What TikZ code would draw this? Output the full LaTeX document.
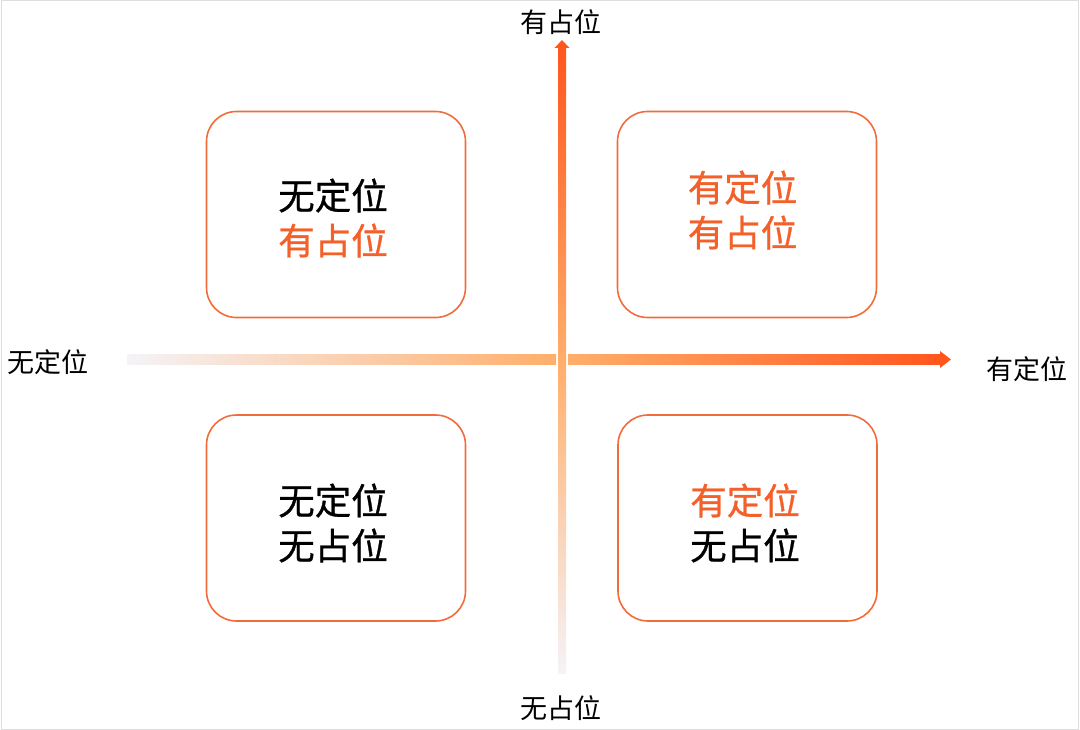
\documentclass[tikz,border=0pt]{standalone}
\usepackage{fontspec}
\newfontfamily\cjk{Noto Sans CJK SC}
\newfontfamily\cjkm[FakeBold=0.8]{Noto Sans CJK SC}
\definecolor{boxline}{HTML}{F26B3A}
\definecolor{hot}{HTML}{F4602A}
\definecolor{redor}{HTML}{FF561E}
\definecolor{midor}{HTML}{FF8A12}
\definecolor{lightor}{HTML}{FFAE6A}
\definecolor{pale}{HTML}{F5F3F8}
\definecolor{frame}{HTML}{DEDEDE}
\tikzset{
  quad/.style={draw=boxline, line width=1.6pt, rounded corners=30pt, minimum width=259pt, minimum height=206pt, inner sep=0pt},
  quadtext/.style={font=\cjkm\fontsize{36.5}{45}\selectfont, align=center, inner sep=0pt},
  axislabel/.style={font=\cjk\fontsize{27}{30}\selectfont, inner sep=0pt, text=black},
}
\begin{document}
\begin{tikzpicture}[x=1pt,y=-1pt]
\useasboundingbox (0,0) rectangle (1080,730);
\draw[frame, line width=1pt] (1,1) rectangle (1078,729);
% quadrant boxes
\node[quad] (tl) at (336,214.5) {};
\node[quad] (tr) at (747,214.5) {};
\node[quad] (bl) at (336,518) {};
\node[quad] (br) at (747.5,518) {};
\node[quadtext] (tlt) at (333,218) {无定位\\\textcolor{hot}{有占位}};
\node[quadtext, text=hot] (trt) at (742.5,210) {有定位\\有占位};
\node[quadtext] (blt) at (333,523) {无定位\\无占位};
\node[quadtext] (brt) at (745,523) {\textcolor{hot}{有定位}\\无占位};
% axes
\coordinate (vtop) at (562,40);
\coordinate (vbot) at (562,673);
\coordinate (hleft) at (127,359.5);
\coordinate (hright) at (951,359.5);
% horizontal left segment
\fill[left color=pale, right color=lightor] (127,355) rectangle (556,364);
% horizontal right segment
\fill[left color=lightor, middle color=midor, right color=redor] (568,355) rectangle (941,364);
\fill[redor] (940,351) -- (hright) -- (940,368) -- cycle;
% vertical
\fill[top color=redor, middle color=midor, bottom color=lightor] (558,47) rectangle (566,360);
\fill[top color=lightor, bottom color=pale] (558,359.5) rectangle (566,673);
\fill[redor] (554.5,48) -- (vtop) -- (569.5,48) -- cycle;
% axis labels
\node[axislabel] (ly) at (561,22) {有占位};
\node[axislabel] (lny) at (561,708) {无占位};
\node[axislabel] (lnx) at (48,362) {无定位};
\node[axislabel] (lx) at (1027,369) {有定位};
\end{tikzpicture}
\end{document}
